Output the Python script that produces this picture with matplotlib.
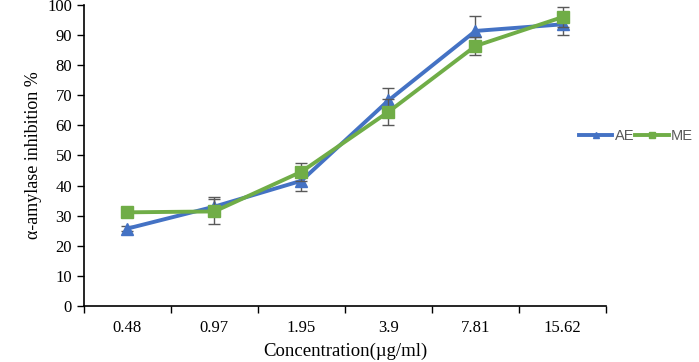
import numpy as np
import matplotlib
matplotlib.use('Agg')
import matplotlib.pyplot as plt
from matplotlib.lines import Line2D

# Data
concentrations = ['0.48', '0.97', '1.95', '3.9', '7.81', '15.62']
ae_mean = [25.7, 33.0, 41.6, 68.3, 91.4, 93.6]
ae_err = [0.8, 3.2, 3.4, 4.0, 5.0, 3.6]
me_mean = [31.1, 31.4, 44.6, 64.5, 86.4, 96.0]
me_err = [0.8, 4.2, 3.0, 4.4, 3.0, 3.4]

plt.rcParams['font.family'] = ['Liberation Serif', 'DejaVu Serif']

fig = plt.figure(figsize=(6.99, 3.62), dpi=100)
ax = fig.add_axes([0.120, 0.155, 0.747, 0.831])

x = np.arange(len(concentrations))

ax.errorbar(x, ae_mean, yerr=ae_err, color='#4472C4', lw=2.8, marker='^', ms=8,
            ecolor='#595959', elinewidth=1, capsize=4, capthick=1, zorder=3)
ax.errorbar(x, me_mean, yerr=me_err, color='#70AD47', lw=2.8, marker='s', ms=8,
            ecolor='#595959', elinewidth=1, capsize=4, capthick=1, zorder=4)

ax.set_xlim(-0.5, len(concentrations) - 0.5)
ax.set_ylim(0, 100)
ax.set_yticks(range(0, 101, 10))
ax.set_xticks(x)
ax.set_xticklabels(concentrations)
ax.set_xticks(np.arange(-0.5, len(concentrations), 1), minor=True)
ax.tick_params(axis='x', which='major', length=0, pad=10, labelsize=12)
ax.tick_params(axis='x', which='minor', length=5, width=1, direction='out')
ax.tick_params(axis='y', length=5, width=1, direction='out', labelsize=12)

for s in ['top', 'right']:
    ax.spines[s].set_visible(False)
for s in ['left', 'bottom']:
    ax.spines[s].set_linewidth(1.2)

ax.set_ylabel('α-amylase inhibition %', fontsize=13)
ax.set_xlabel('Concentration(µg/ml)', fontsize=13.5, labelpad=5)

handles = [Line2D([], [], color='#4472C4', lw=2.8, marker='^', ms=5),
           Line2D([], [], color='#70AD47', lw=2.8, marker='s', ms=5)]
leg = fig.legend(handles, ['AE', 'ME'], loc='center left', bbox_to_anchor=(0.828, 0.624),
                 ncol=2, frameon=False, handlelength=2.3, columnspacing=0.1,
                 handletextpad=0.15, borderpad=0, borderaxespad=0,
                 prop={'family': 'Liberation Sans', 'size': 10.5})
for t in leg.get_texts():
    t.set_color('#595959')

fig.savefig('out.png', dpi=100)
